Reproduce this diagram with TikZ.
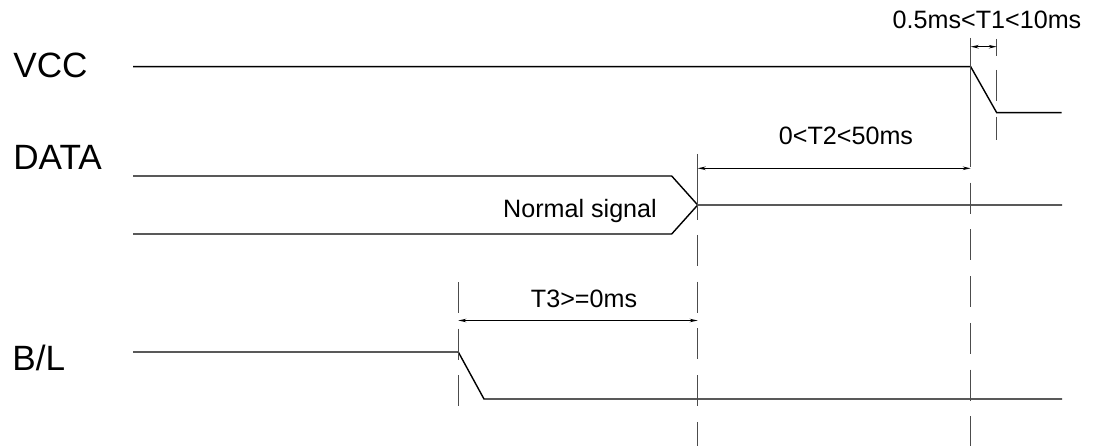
\documentclass[tikz,border=0pt]{standalone}
\usepackage{fontspec}
\setmainfont{Liberation Sans}
\usetikzlibrary{arrows.meta}

\begin{document}
\begin{tikzpicture}[x=0.02cm,y=-0.02cm,>={Stealth[length=4.5pt,width=2pt]},
                    sigline/.style={line width=0.8pt},
                    guideline/.style={line width=0.75pt,black!70},
                    guidedash/.style={guideline,dash pattern=on 17.6pt off 9pt},
                    dimarrow/.style={line width=0.7pt,<->},
                    siglabel/.style={font=\fontsize{20}{24}\selectfont,anchor=base west,inner sep=0pt},
                    tlabel/.style={font=\fontsize{14.3}{17}\selectfont,anchor=base,inner sep=0pt}]
  \useasboundingbox (0,0) rectangle (1093,446);
  \node[siglabel] (vcc) at (13,78) {VCC};
  \node[siglabel] (data) at (13,170) {DATA};
  \node[siglabel] (bl) at (12,370) {B/L};
  \node[tlabel] (t1) at (987,29) {0.5ms<T1<10ms};
  \node[tlabel] (t2) at (846,145) {0<T2<50ms};
  \node[tlabel] (t3) at (584,307) {T3>=0ms};
  \node[tlabel] (normal) at (580,217) {Normal signal};
  \coordinate (vccA) at (133,66.7);
  \coordinate (vccB) at (970.7,66.7);
  \coordinate (vccC) at (996.7,112.7);
  \coordinate (vccD) at (1061.7,112.7);
  \coordinate (dataHi) at (133,176);
  \coordinate (dataLo) at (133,234);
  \coordinate (dataHiE) at (671.7,176);
  \coordinate (dataLoE) at (671.7,234);
  \coordinate (dataX) at (697.7,205);
  \coordinate (dataD) at (1062,205);
  \coordinate (blA) at (133,352);
  \coordinate (blB) at (458.3,352);
  \coordinate (blC) at (484,399);
  \coordinate (blD) at (1062,399);
  \draw[sigline] (vccA) -- (vccB) -- (vccC) -- (vccD);
  \draw[sigline] (dataHi) -- (dataHiE) -- (dataX) -- (dataD);
  \draw[sigline] (dataLo) -- (dataLoE) -- (dataX);
  \draw[sigline] (blA) -- (blB) -- (blC) -- (blD);
  \draw[guideline] (697.7,154) -- (697.7,220);
  \draw[guideline] (970.7,38) -- (970.7,143);
  \draw[guideline] (996.7,39) -- (996.7,56);
  \foreach \x/\a/\b in {458.3/282/415, 697.7/235/446, 970.7/136/446, 996.7/70/140}{
    \draw[guidedash] (\x,\a) -- (\x,\b);
  }
  \coordinate (t1L) at (970.7,46.7);
  \coordinate (t1R) at (996.7,46.7);
  \coordinate (t2L) at (697.7,168.3);
  \coordinate (t2R) at (970.7,168.3);
  \coordinate (t3L) at (458.3,320.5);
  \coordinate (t3R) at (697.7,320.5);
  \draw[dimarrow] (t1L) -- (t1R);
  \draw[dimarrow] (t2L) -- (t2R);
  \draw[dimarrow] (t3L) -- (t3R);
\end{tikzpicture}
\end{document}
